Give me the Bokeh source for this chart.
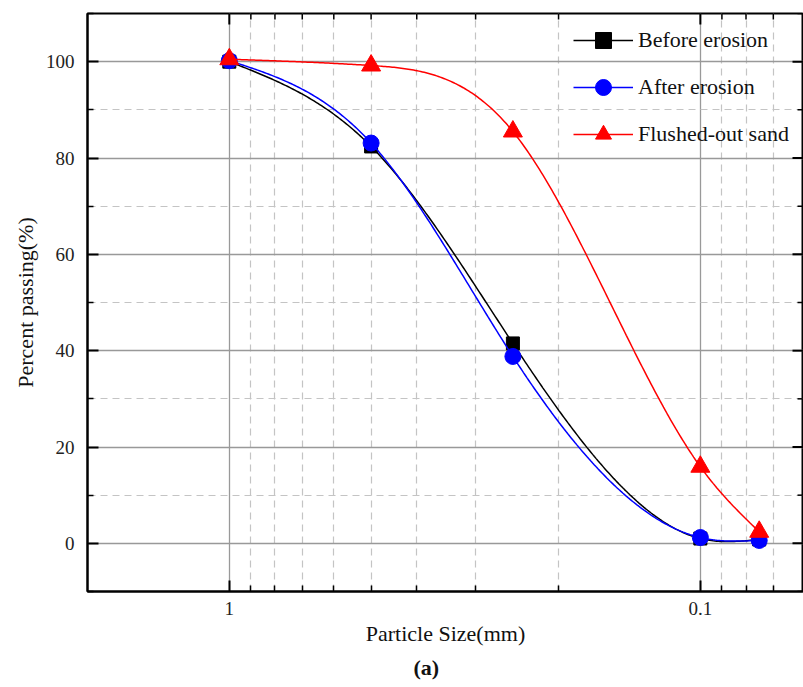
import numpy as np
from bokeh.plotting import figure
from bokeh.models import (Range1d, FixedTicker, CustomJSTickFormatter, Legend, LegendItem, Title)
from bokeh.embed import file_html
from bokeh.resources import INLINE

# ---------------- data ----------------
sizes_mm = [1.0, 0.5, 0.25, 0.1, 0.075]
before_erosion = [100.0, 82.4, 41.5, 1.0, 0.8]
after_erosion = [100.2, 83.1, 38.8, 1.2, 0.6]
flushed_out_sand = [100.5, 99.2, 85.5, 15.9, 2.4]

x_major_ticks = [1.0, 0.1]
x_minor_ticks = [0.9, 0.8, 0.7, 0.6, 0.5, 0.4, 0.3, 0.2, 0.09, 0.08, 0.07]
y_major_ticks = [0, 20, 40, 60, 80, 100]
y_minor_ticks = [-10, 10, 30, 50, 70, 90, 110]
series_names = ["Before erosion", "After erosion", "Flushed-out sand"]

FONT = "Liberation Serif"
X_START, X_END = 2.0, 0.0604
Y_START, Y_END = -10, 110
W, H = 803, 687
BL, BT, BR, BB = 87, 13, 0, 96


def natural_spline(xk, yk, n=300):
    xk = np.asarray(xk, float)
    yk = np.asarray(yk, float)
    m = len(xk)
    h = np.diff(xk)
    A = np.zeros((m, m))
    b = np.zeros(m)
    A[0, 0] = A[-1, -1] = 1.0
    for i in range(1, m - 1):
        A[i, i - 1] = h[i - 1]
        A[i, i] = 2 * (h[i - 1] + h[i])
        A[i, i + 1] = h[i]
        b[i] = 6 * ((yk[i + 1] - yk[i]) / h[i] - (yk[i] - yk[i - 1]) / h[i - 1])
    M = np.linalg.solve(A, b)
    xs = np.linspace(xk[0], xk[-1], n)
    idx = np.clip(np.searchsorted(xk, xs) - 1, 0, m - 2)
    x0, x1 = xk[idx], xk[idx + 1]
    hh = x1 - x0
    a = (x1 - xs) / hh
    bb = (xs - x0) / hh
    ys = a * yk[idx] + bb * yk[idx + 1] + ((a ** 3 - a) * M[idx] + (bb ** 3 - bb) * M[idx + 1]) * hh ** 2 / 6
    return xs, ys


def smooth(xvals, yvals):
    u = -np.log10(np.asarray(xvals, float))
    us, ys = natural_spline(u, yvals)
    return 10 ** (-us), ys


p = figure(width=W, height=H, x_axis_type="log",
           x_range=Range1d(X_START, X_END), y_range=Range1d(Y_START, Y_END),
           output_backend="svg", toolbar_location=None,
           min_border_left=BL, min_border_top=BT, min_border_right=BR, min_border_bottom=BB)
p.outline_line_color = "black"
p.outline_line_width = 2
p.background_fill_color = "white"

xticker = FixedTicker(ticks=x_major_ticks, minor_ticks=x_minor_ticks)
yticker = FixedTicker(ticks=y_major_ticks, minor_ticks=y_minor_ticks)
xfmt = CustomJSTickFormatter(code="return tick.toString()")


def style_axis(ax):
    ax.axis_line_width = 2
    ax.axis_line_color = "black"
    ax.major_tick_line_color = "black"
    ax.minor_tick_line_color = "black"
    ax.major_tick_line_width = 2
    ax.minor_tick_line_width = 1.5
    ax.major_tick_in = 11
    ax.major_tick_out = 0
    ax.minor_tick_in = 6
    ax.minor_tick_out = 0
    ax.major_label_text_font = FONT
    ax.major_label_text_color = "#222222"
    ax.major_label_text_font_size = "19px"
    ax.axis_label_text_font = FONT
    ax.axis_label_text_font_style = "normal"
    ax.axis_label_text_font_size = "22px"
    ax.axis_label_text_color = "#111111"


xa = p.xaxis[0]
xa.ticker = xticker
xa.formatter = xfmt
style_axis(xa)
xa.axis_label = "Particle Size(mm)"
xa.major_label_standoff = 10
xa.axis_label_standoff = 3

ya = p.yaxis[0]
ya.ticker = yticker
style_axis(ya)
ya.axis_label = "Percent passing(%)"
ya.major_label_standoff = 13
ya.axis_label_standoff = 5

p.xgrid.grid_line_color = "#999999"
p.xgrid.grid_line_width = 1.3
p.xgrid.minor_grid_line_color = "#c4c4c4"
p.xgrid.minor_grid_line_dash = "7 5"
p.xgrid.minor_grid_line_width = 1.2
p.ygrid.grid_line_color = "#999999"
p.ygrid.grid_line_width = 1.3
p.ygrid.minor_grid_line_color = "#c4c4c4"
p.ygrid.minor_grid_line_dash = "7 5"
p.ygrid.minor_grid_line_width = 1.2

# inward ticks on the top and right frame edges (mirroring the bottom / left axes)
frame_w = W - BL - BR
frame_h = H - BT - BB
px_per_unit_y = frame_h / (Y_END - Y_START)
px_per_decade = frame_w / np.log10(X_START / X_END)


def top_ticks(ticks, length, width):
    ticks = np.asarray(ticks, float)
    p.segment(x0=ticks, y0=np.full(len(ticks), Y_END), x1=ticks,
              y1=np.full(len(ticks), Y_END - length / px_per_unit_y),
              line_color="black", line_width=width)


def right_ticks(ticks, length, width):
    ticks = np.asarray(ticks, float)
    xin = X_END * 10 ** (length / px_per_decade)
    p.segment(x0=np.full(len(ticks), X_END), y0=ticks, x1=np.full(len(ticks), xin), y1=ticks,
              line_color="black", line_width=width)


top_ticks(x_major_ticks, 11, 2)
top_ticks(x_minor_ticks, 6, 1.5)
right_ticks(y_major_ticks, 11, 2)
right_ticks(y_minor_ticks, 6, 1.5)

items = []
specs = [
    (before_erosion, "black", "square", 13),
    (after_erosion, "#0000ff", "circle", 16),
    (flushed_out_sand, "#ff0000", "triangle", 19),
]
for name, (vals, col, marker, sz) in zip(series_names, specs):
    sx, sy = smooth(sizes_mm, vals)
    ln = p.line(sx, sy, line_color=col, line_width=1.5)
    sc = p.scatter(sizes_mm, vals, marker=marker, size=sz, fill_color=col, line_color=col)
    items.append(LegendItem(label=name, renderers=[ln, sc]))

legend = Legend(items=items, location=(486, 437))
legend.background_fill_alpha = 0
legend.border_line_color = None
legend.padding = 0
legend.margin = 0
legend.spacing = 7
legend.glyph_width = 60
legend.glyph_height = 40
legend.label_height = 40
legend.label_standoff = 5
legend.label_text_font = FONT
legend.label_text_font_size = "22px"
legend.label_text_color = "#111111"
p.add_layout(legend)

caption = Title(text="(a)", align="left", offset=326, standoff=8,
                text_font=FONT, text_font_size="22px", text_font_style="bold",
                text_color="#111111")
p.add_layout(caption, "below")

open("out.html", "w").write(file_html(p, INLINE))
